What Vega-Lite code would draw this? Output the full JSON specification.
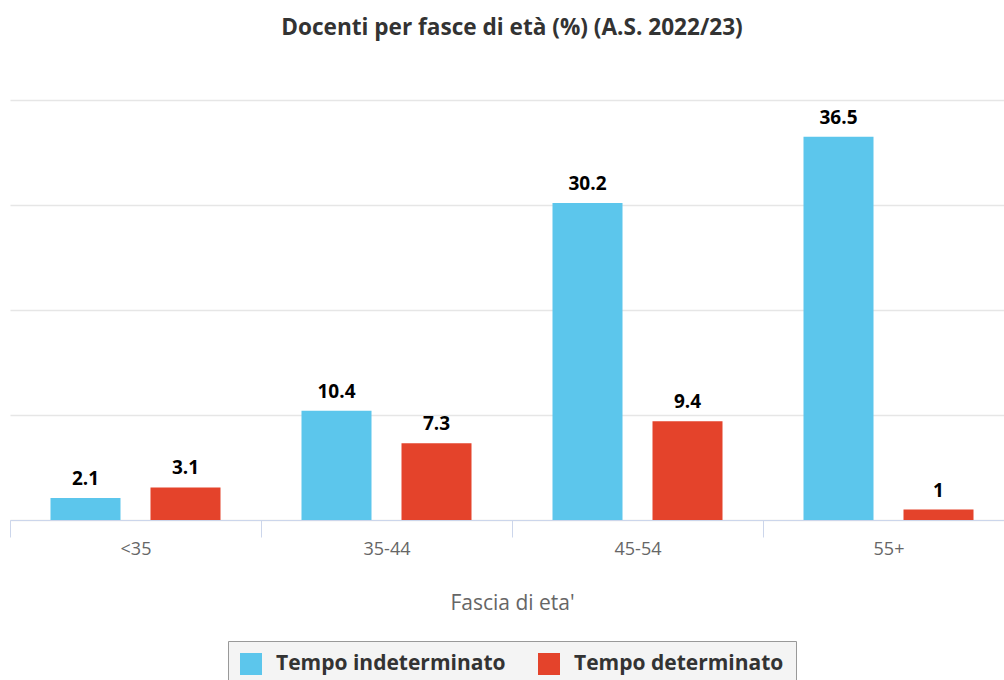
{
  "$schema": "https://vega.github.io/schema/vega-lite/v6.json",
  "autosize": "none",
  "width": 1004,
  "height": 420,
  "padding": {"left": 10, "top": 100, "right": 0, "bottom": 160},
  "background": "white",
  "config": {
    "font": "Open Sans",
    "view": {"stroke": null},
    "legend": {"layout": {"bottom": {"anchor": "middle"}}}
  },
  "title": {
    "text": "Docenti per fasce di età (%) (A.S. 2022/23)",
    "fontSize": 22.6,
    "fontWeight": "bold",
    "color": "#333333",
    "anchor": "middle",
    "offset": 60
  },
  "data": {
    "values": [
      {"fascia": "<35", "tipo": "Tempo indeterminato", "valore": 2.1},
      {"fascia": "<35", "tipo": "Tempo determinato", "valore": 3.1},
      {"fascia": "35-44", "tipo": "Tempo indeterminato", "valore": 10.4},
      {"fascia": "35-44", "tipo": "Tempo determinato", "valore": 7.3},
      {"fascia": "45-54", "tipo": "Tempo indeterminato", "valore": 30.2},
      {"fascia": "45-54", "tipo": "Tempo determinato", "valore": 9.4},
      {"fascia": "55+", "tipo": "Tempo indeterminato", "valore": 36.5},
      {"fascia": "55+", "tipo": "Tempo determinato", "valore": 1}
    ]
  },
  "encoding": {
    "x": {
      "field": "fascia",
      "type": "nominal",
      "sort": ["<35", "35-44", "45-54", "55+"],
      "scale": {"paddingInner": 0, "paddingOuter": 0},
      "axis": {
        "title": "Fascia di eta'",
        "titleFontSize": 21,
        "titleFontWeight": "normal",
        "titleColor": "#666666",
        "titlePadding": 34,
        "labelAngle": 0,
        "labelFontSize": 18,
        "labelColor": "#666666",
        "labelPadding": 3,
        "tickBand": "extent",
        "tickSize": 17,
        "tickColor": "#ccd6eb",
        "domainColor": "#ccd6eb",
        "grid": false
      }
    },
    "xOffset": {
      "field": "tipo",
      "type": "nominal",
      "sort": ["Tempo indeterminato", "Tempo determinato"],
      "scale": {"paddingInner": 0.3, "paddingOuter": 0.405}
    },
    "y": {
      "field": "valore",
      "type": "quantitative",
      "scale": {"domain": [0, 40], "nice": false},
      "axis": {
        "title": null,
        "labels": false,
        "ticks": false,
        "domain": false,
        "values": [0, 10, 20, 30, 40],
        "gridColor": "#e6e6e6",
        "gridWidth": 1.5
      }
    }
  },
  "layer": [
    {
      "mark": {"type": "bar"},
      "encoding": {
        "color": {
          "field": "tipo",
          "type": "nominal",
          "sort": ["Tempo indeterminato", "Tempo determinato"],
          "scale": {"domain": ["Tempo indeterminato", "Tempo determinato"], "range": ["#5cc6ec", "#e4432b"]},
          "legend": {
            "title": null,
            "orient": "bottom",
            "direction": "horizontal",
            "symbolType": "square",
            "symbolSize": 484,
            "symbolStrokeWidth": 0,
            "labelFontSize": 21,
            "labelFontWeight": "bold",
            "labelColor": "#333333",
            "labelLimit": 400,
            "labelOffset": 14,
            "columnPadding": 32,
            "fillColor": "#f4f4f4",
            "strokeColor": "#999999",
            "padding": 12,
            "offset": 28
          }
        }
      }
    },
    {
      "mark": {"type": "text", "baseline": "bottom", "dy": -9, "fontSize": 19, "fontWeight": "bold", "color": "#000000"},
      "encoding": {"text": {"field": "valore", "type": "quantitative"}}
    }
  ]
}
